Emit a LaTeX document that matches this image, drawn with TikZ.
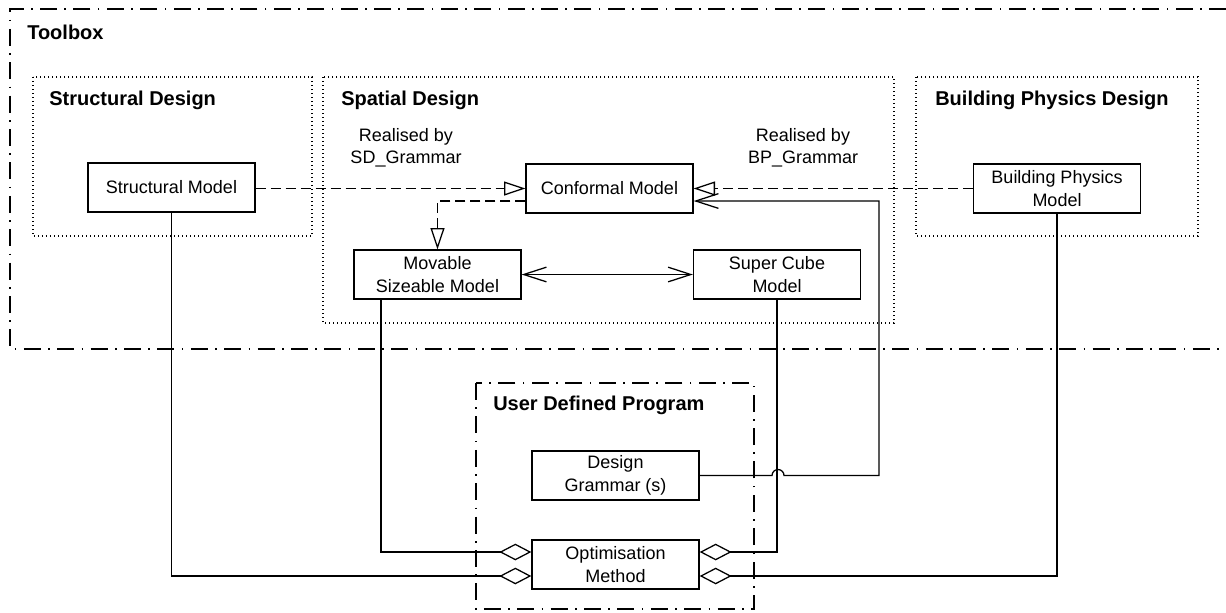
\documentclass[tikz,border=0pt]{standalone}
\usepackage{fontspec}
\setmainfont{Liberation Sans}
\usetikzlibrary{arrows.meta}
\begin{document}
\begin{tikzpicture}[x=0.75pt,y=-0.75pt,
  box/.style={draw,line width=1pt,minimum width=125.25pt,minimum height=36.75pt,inner sep=0pt,align=center,font=\fontsize{13.5}{17}\selectfont},
  title/.style={anchor=west,font=\fontsize{15}{18}\selectfont\bfseries,inner sep=0pt},
  lbl/.style={align=center,font=\fontsize{13.5}{16.5}\selectfont,inner sep=0pt},
  dotframe/.style={line width=0.9pt,dash pattern=on 1.1pt off 1.9pt},
  dashdot/.style={line width=0.95pt,dash pattern=on 12.75pt off 5.6pt on 1.1pt off 5.6pt},
  conn/.style={line width=0.95pt},
  real/.style={conn,dash pattern=on 7.5pt off 3.75pt,-{Triangle[open,length=16pt,width=10.5pt]}},
  nav/.style={conn,-{Straight Barb[length=17pt,width=11pt]}},
  bnav/.style={conn,{Straight Barb[length=17pt,width=11pt]}-{Straight Barb[length=17pt,width=11pt]}},
  agg/.style={conn,-{Diamond[open,length=24pt,width=12.5pt]}}
]
\useasboundingbox (0,0) rectangle (1226,612);
% frames
\draw[dashdot] (1226,9) -- (10,9) -- (10,349) -- (1226,349);
\draw[dotframe] (33,77) rectangle (312,236);
\draw[dotframe] (323,77) rectangle (894,323);
\draw[dotframe] (916,77) rectangle (1198,236);
\draw[dashdot] (476,383) rectangle (754,609);
% titles
\node[title] (ttb) at (27,32) {Toolbox};
\node[title] (tsd) at (49,100) {Structural Design};
\node[title] (tsp) at (341,100) {Spatial Design};
\node[title] (tbp) at (935,100) {Building Physics Design};
\node[title] (tud) at (493,405) {User Defined Program};
% nodes
\node[box] (sm) at (171.5,187.5) {Structural Model};
\node[box] (cm) at (609.5,188.5) {Conformal Model};
\node[box] (bp) at (1057,188.5) {Building Physics\\Model};
\node[box] (ms) at (437.5,274.5) {Movable\\Sizeable Model};
\node[box] (sc) at (777,274.5) {Super Cube\\Model};
\node[box] (dg) at (615.5,475.5) {Design\\Grammar (s)};
\node[box] (om) at (615.5,564.5) {Optimisation\\Method};
% labels
\node[lbl] (l1) at (406,148) {Realised by\\SD\_Grammar};
\node[lbl] (l2) at (803,148) {Realised by\\BP\_Grammar};
% connectors
\draw[real] (sm.east |- cm.west) -- (cm.west);
\draw[real] (bp.west) -- (cm.east);
\draw[real] (cm.west |- 0,201) -| (ms.north);
\draw[bnav] (ms.east) -- (sc.west);
\coordinate (j1) at (772,475.5);
\coordinate (c1) at (879,475.5);
\draw[nav] (dg.east) -- (j1) arc[start angle=180,end angle=360,radius=6] -- (c1) -- (879,201) -- (cm.east |- 0,201);
\draw[agg] (sc.south) |- (om.east |- 0,552);
\draw[agg] (ms.south -| 381,0) |- (om.west |- 0,552);
\draw[agg] (sm.south) |- (om.west |- 0,576);
\draw[agg] (bp.south) |- (om.east |- 0,576);
\end{tikzpicture}
\end{document}
